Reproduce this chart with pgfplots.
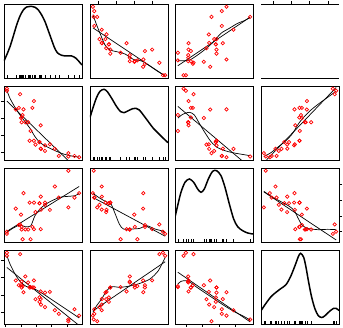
\documentclass[border=0pt]{standalone}
\usepackage{pgfplots}
\pgfplotsset{compat=1.18}
\usepackage{pgfplotstable}

\pgfplotstableread{
mpg disp drat wt
21.0 160 3.90 2.620
21.0 160 3.90 2.875
22.8 108 3.85 2.320
21.4 258 3.08 3.215
18.7 360 3.15 3.440
18.1 225 2.76 3.460
14.3 360 3.21 3.570
24.4 146.7 3.69 3.190
22.8 140.8 3.92 3.150
19.2 167.6 3.92 3.440
17.8 167.6 3.92 3.440
16.4 275.8 3.07 4.070
17.3 275.8 3.07 3.730
15.2 275.8 3.07 3.780
10.4 472 2.93 5.250
10.4 460 3.00 5.424
14.7 440 3.23 5.345
32.4 78.7 4.08 2.200
30.4 75.7 4.93 1.615
33.9 71.1 4.22 1.835
21.5 120.1 3.70 2.465
15.5 318 2.76 3.520
15.2 304 3.15 3.435
13.3 350 3.73 3.840
19.2 400 3.08 3.845
27.3 79 4.08 1.935
26.0 120.3 4.43 2.140
30.4 95.1 3.77 1.513
15.8 351 4.22 3.170
19.7 145 3.62 2.770
15.0 301 3.54 3.570
21.4 121 4.11 2.780
}\mtcars

\pgfplotsset{
 panel/.style={scale only axis, width=78pt, height=74pt, anchor=south west,
   enlargelimits=false, xtick=\empty, ytick=\empty,
   axis line style={black, line width=0.8pt}, tick align=outside,
   major tick length=3pt, tick style={black, line width=0.7pt},
   xticklabel={\relax}, yticklabel={\relax},
   tick label style={inner sep=0pt, outer sep=0pt}, clip=true},
 cmpg/.style={xmin=9.46, xmax=34.84},
 cdisp/.style={xmin=55.06, xmax=488.04},
 cdrat/.style={xmin=2.6732, xmax=5.0168},
 cwt/.style={xmin=1.3566, xmax=5.5804},
 rmpg/.style={ymin=9.46, ymax=34.84},
 rdisp/.style={ymin=55.06, ymax=488.04},
 rdrat/.style={ymin=2.6732, ymax=5.0168},
 rwt/.style={ymin=1.3566, ymax=5.5804},
 rdiag/.style={ymin=0, ymax=74},
 pts/.style={only marks, mark=o, mark size=1.7pt, color=red, mark options={line width=0.7pt}},
 fit/.style={black, line width=0.7pt, no marks},
 lo/.style={black, line width=0.7pt, no marks, smooth, tension=0.45},
 dens/.style={black, line width=1.5pt, no marks, smooth, tension=0.5},
 rug/.style={ycomb, black, line width=0.6pt, no marks},
}

\begin{document}
\begin{tikzpicture}
\useasboundingbox (0pt,0pt) rectangle (343pt,328pt);

% ---------------- Row 1 (mpg)
\begin{axis}[panel, cmpg, rdiag, at={(4pt,250pt)}]
\addplot[dens] coordinates {(9.46,17) (10.33,23) (11.41,31.3) (12.50,42) (13.58,53) (14.67,62) (15.75,68) (16.84,71) (18.14,71.7) (19.55,70.7) (20.63,68) (21.72,63) (22.80,56.3) (23.88,47.3) (24.97,38) (25.84,30.7) (26.81,25.3) (28.22,22.7) (29.85,22) (31.48,22) (32.89,19.7) (34.19,15.3) (34.84,13)};
\addplot[rug] table[x=mpg, y expr=3] {\mtcars};
\end{axis}

\begin{axis}[panel, cdisp, rmpg, at={(90pt,250pt)}, xtick={100,200,300,400}, xtick pos=right]
\addplot[pts] table[x=disp, y=mpg] {\mtcars};
\addplot[fit] coordinates {(71.1,26.67) (472,10.146)};
\addplot[lo] coordinates {(71.1,31.2) (92.1,27.64) (110.6,24.78) (138.3,20.78) (166.1,19.06) (203.1,18.49) (249.3,17.69) (295.6,15.86) (341.9,15.29) (378.9,13.92) (425.1,11.97) (472,10.2)};
\end{axis}

\begin{axis}[panel, cdrat, rmpg, at={(175pt,250pt)}]
\addplot[pts] table[x=drat, y=mpg] {\mtcars};
\addplot[fit] coordinates {(2.76,13.67) (4.93,30.33)};
\addplot[lo] coordinates {(2.76,15.40) (3.004,15.40) (3.154,15.86) (3.354,17.35) (3.554,19.06) (3.805,21.58) (4.055,24.78) (4.306,26.50) (4.556,28.21) (4.756,29.12) (4.93,30.2)};
\end{axis}

\begin{axis}[panel, cwt, ymin=0, ymax=1, at={(261pt,250pt)}, axis x line=box, axis y line=none, xtick={2,3,4,5}, xtick pos=right]
\addplot[draw=none, no marks] coordinates {(2,0.5)};
\end{axis}

% ---------------- Row 2 (disp)
\begin{axis}[panel, cmpg, rdisp, at={(4pt,168pt)}, ytick={100,200,300,400}, ytick pos=left]
\addplot[pts] table[x=mpg, y=disp] {\mtcars};
\addplot[fit] coordinates {(10.4,399.6) (33.9,-10.0)};
\addplot[lo] coordinates {(10.4,462) (11.41,415.9) (13.04,363.2) (14.67,318.4) (16.29,279.3) (17.92,240.4) (19.55,191.6) (21.17,156.5) (23.34,133.1) (26.05,109.7) (28.77,90.2) (31.48,78.5) (33.9,71.5)};
\end{axis}

\begin{axis}[panel, cdisp, rdiag, at={(90pt,168pt)}]
\addplot[dens] coordinates {(55.06,42.5) (73.6,53.3) (92.1,62.7) (110.6,68.7) (132.8,70.7) (151.3,68.3) (175.3,61.7) (203.1,53.3) (225.3,48.3) (243.8,47.3) (267.8,49.3) (291.9,51.3) (310.4,51.7) (328.9,50) (351.1,45) (378.9,38.3) (406.6,31.7) (434.4,26.7) (462.1,21.7) (488.04,17.3)};
\addplot[rug] table[x=disp, y expr=3] {\mtcars};
\end{axis}

\begin{axis}[panel, cdrat, rdisp, at={(175pt,168pt)}]
\addplot[pts] table[x=drat, y=disp] {\mtcars};
\addplot[fit] coordinates {(2.76,368.5) (4.93,11.2)};
\addplot[lo] coordinates {(2.76,300) (2.904,322.3) (3.104,334.0) (3.254,318.4) (3.404,269.6) (3.554,220.8) (3.755,162.3) (3.955,127.2) (4.205,107.7) (4.506,94.1) (4.93,80.4)};
\end{axis}

\begin{axis}[panel, cwt, rdisp, at={(261pt,168pt)}]
\addplot[pts] table[x=wt, y=disp] {\mtcars};
\addplot[fit] coordinates {(1.513,39.0) (5.424,478.9)};
\addplot[lo] coordinates {(1.513,74.6) (1.898,98.0) (2.259,129.2) (2.710,168.2) (3.071,211.1) (3.342,259.8) (3.613,298.9) (4.064,347.6) (4.515,386.6) (4.967,421.7) (5.424,458)};
\end{axis}

% ---------------- Row 3 (drat)
\begin{axis}[panel, cmpg, rdrat, at={(4pt,86pt)}]
\addplot[pts] table[x=mpg, y=drat] {\mtcars};
\addplot[fit] coordinates {(10.4,3.011) (33.9,4.431)};
\addplot[lo] coordinates {(10.4,2.979) (12.50,3.117) (14.67,3.212) (16.29,3.159) (18.14,3.180) (19.55,3.507) (21.72,3.771) (24.43,3.950) (27.68,4.088) (30.39,4.119) (32.56,4.140) (33.9,4.21)};
\end{axis}

\begin{axis}[panel, cdisp, rdrat, at={(90pt,86pt)}]
\addplot[pts] table[x=disp, y=drat] {\mtcars};
\addplot[fit] coordinates {(71.1,4.086) (472,2.857)};
\addplot[lo] coordinates {(71.1,4.214) (110.6,4.056) (147.6,3.940) (171.6,3.877) (193.8,3.581) (217.9,3.243) (240.1,3.085) (286.4,3.085) (332.6,3.106) (369.6,3.190) (415.9,3.085) (462.1,3.011) (472,2.95)};
\end{axis}

\begin{axis}[panel, cdrat, rdiag, at={(175pt,86pt)}]
\addplot[dens] coordinates {(2.673,24.7) (2.753,36.3) (2.853,49.7) (2.974,59.7) (3.104,63) (3.234,59.7) (3.354,53) (3.454,49.7) (3.554,53) (3.675,63) (3.805,70.7) (3.925,71.3) (4.055,66.3) (4.175,54.7) (4.306,38) (4.436,23) (4.556,15.3) (4.706,11.3) (4.857,9) (5.017,8)};
\addplot[rug] table[x=drat, y expr=3] {\mtcars};
\end{axis}

\begin{axis}[panel, cwt, rdrat, at={(261pt,86pt)}, ytick={3,3.5,4,4.5}, ytick pos=right]
\addplot[pts] table[x=wt, y=drat] {\mtcars};
\addplot[fit] coordinates {(1.513,4.260) (5.424,2.737)};
\addplot[lo] coordinates {(1.513,4.278) (1.898,4.120) (2.440,3.950) (2.891,3.803) (3.161,3.665) (3.342,3.454) (3.577,3.212) (3.884,3.106) (4.425,3.064) (4.967,3.074) (5.424,3.064)};
\end{axis}

% ---------------- Row 4 (wt)
\begin{axis}[panel, cmpg, rwt, at={(4pt,4pt)}, ytick={2,3,4,5}, ytick pos=left, xtick={10,15,20,25,30}, xtick pos=left]
\addplot[pts] table[x=mpg, y=wt] {\mtcars};
\addplot[fit] coordinates {(10.4,4.5825) (33.9,1.272)};
\addplot[lo] coordinates {(10.4,5.257) (11.41,4.781) (13.04,4.211) (14.67,3.792) (16.62,3.507) (18.46,3.411) (20.09,3.297) (22.26,3.069) (25.51,2.688) (28.77,2.308) (32.02,1.927) (33.9,1.699)};
\end{axis}

\begin{axis}[panel, cdisp, rwt, at={(90pt,4pt)}]
\addplot[pts] table[x=disp, y=wt] {\mtcars};
\addplot[fit] coordinates {(71.1,2.098) (472,4.909)};
\addplot[lo] coordinates {(71.1,2.023) (92.1,2.403) (119.8,2.784) (147.6,3.259) (175.3,3.487) (221.6,3.450) (277.1,3.526) (332.6,3.678) (388.1,3.925) (434.4,4.401) (472,5.15)};
\end{axis}

\begin{axis}[panel, cdrat, rwt, at={(175pt,4pt)}, xtick={3,3.5,4,4.5}, xtick pos=left]
\addplot[pts] table[x=drat, y=wt] {\mtcars};
\addplot[fit] coordinates {(2.76,4.308) (4.93,1.479)};
\addplot[lo] coordinates {(2.76,3.640) (2.853,3.792) (3.004,3.830) (3.134,3.735) (3.304,3.487) (3.554,3.164) (3.855,2.784) (4.155,2.403) (4.456,2.061) (4.756,1.775) (4.93,1.585)};
\end{axis}

\begin{axis}[panel, cwt, rdiag, at={(261pt,4pt)}]
\addplot[dens] coordinates {(1.3566,13.3) (1.627,20.7) (1.898,27.3) (2.169,31.7) (2.440,35.5) (2.710,39.3) (2.95,47) (3.198,58.3) (3.378,67.3) (3.50,70.7) (3.667,66.7) (3.793,56.7) (3.938,41.7) (4.101,26.7) (4.281,15) (4.461,8.3) (4.65,6.5) (4.822,8.3) (5.057,12.5) (5.292,15.7) (5.42,15.7) (5.5804,13.5)};
\addplot[rug] table[x=wt, y expr=3] {\mtcars};
\end{axis}
\end{tikzpicture}
\end{document}
